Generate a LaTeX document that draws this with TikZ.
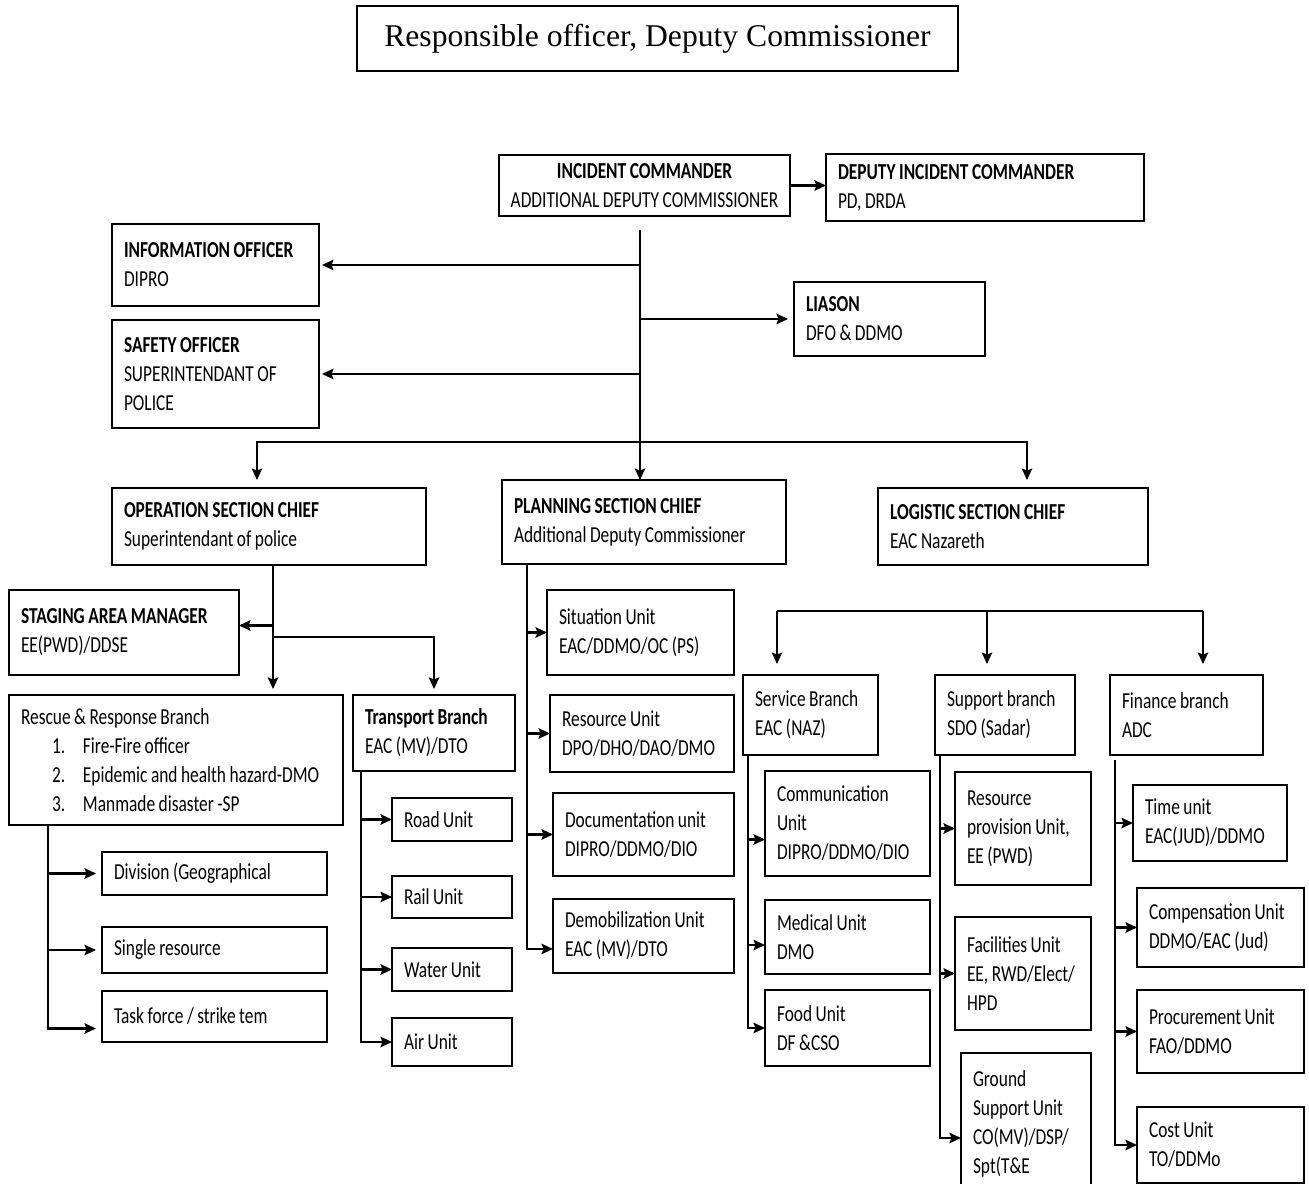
\documentclass[tikz,border=0pt]{standalone}
\usepackage{fontspec}
\newfontfamily\cfont{Carlito}[FakeStretch=0.76,WordSpace=0.9]
\newfontfamily\tfont{Liberation Serif}
\usetikzlibrary{arrows.meta}
\usetikzlibrary{calc}

\begin{document}
\begin{tikzpicture}[x=0.2mm,y=-0.2mm,>={Stealth[length=2.3mm,width=2.1mm,inset=0.4mm]},
  box/.style={draw, line width=1.3pt, anchor=north west, outer sep=0pt, inner xsep=2.4mm, inner ysep=1mm, align=flush left, font=\cfont\fontsize{13}{16.5}\selectfont},
  sz/.style 2 args={minimum width=#1*0.2mm, minimum height=#2*0.2mm, text width=#1*0.2mm-4.8mm},
  con/.style={line width=1.2pt}]

\useasboundingbox (0,0) rectangle (1309,1184);

\node[box, line width=1pt, font=\tfont\fontsize{18}{21}\selectfont, align=center, minimum width=120.2mm, minimum height=13mm] (title) at (357,6) {Responsible officer, Deputy Commissioner};

% command staff
\node[box, line width=1pt, align=center, inner xsep=0.5mm, minimum width=58.2mm, minimum height=12.2mm] (ic) at (499,155) {\textbf{INCIDENT COMMANDER}\\ADDITIONAL DEPUTY COMMISSIONER};
\node[box, line width=1pt, sz={318}{67}] (dic) at (826,154) {\textbf{DEPUTY INCIDENT COMMANDER}\\PD, DRDA};
\node[box, sz={207}{82}] (info) at (112,224) {\textbf{INFORMATION OFFICER}\\DIPRO};
\node[box, sz={207}{108}] (safe) at (112,320) {\textbf{SAFETY OFFICER}\\SUPERINTENDANT OF\\POLICE};
\node[box, sz={191}{74}] (lias) at (794,282) {\textbf{LIASON}\\DFO \& DDMO};

% sections
\node[box, sz={314}{77}] (ops) at (112,488) {\textbf{OPERATION SECTION CHIEF}\\Superintendant of police};
\node[box, sz={284}{84}] (plan) at (502,480) {\textbf{PLANNING SECTION CHIEF}\\Additional Deputy Commissioner};
\node[box, sz={270}{77}] (logi) at (878,488) {\textbf{LOGISTIC SECTION CHIEF}\\EAC Nazareth};

% operation
\node[box, sz={230}{85}] (stag) at (9,590) {\textbf{STAGING AREA MANAGER}\\EE(PWD)/DDSE};
\node[box, sz={334}{130}] (resc) at (9,695) {Rescue \& Response Branch\\
  \hspace*{6.2mm}\makebox[6.2mm][l]{1.}Fire-Fire officer\\
  \hspace*{6.2mm}\makebox[6.2mm][l]{2.}Epidemic and health hazard-DMO\\
  \hspace*{6.2mm}\makebox[6.2mm][l]{3.}Manmade disaster -SP};
\node[box, sz={162}{76}] (trans) at (353,695) {\textbf{Transport Branch}\\EAC (MV)/DTO};
\node[box, sz={225}{43}] (div) at (102,852) {Division (Geographical};
\node[box, sz={225}{46}] (single) at (102,927) {Single resource};
\node[box, sz={225}{51}] (task) at (102,991) {Task force / strike tem};
\node[box, sz={120}{43}] (road) at (392,798) {Road Unit};
\node[box, sz={120}{42}] (rail) at (392,876) {Rail Unit};
\node[box, sz={120}{43}] (water) at (392,948) {Water Unit};
\node[box, sz={120}{48}] (air) at (392,1018) {Air Unit};

% planning
\node[box, sz={187}{85}] (sit) at (547,590) {Situation Unit\\EAC/DDMO/OC (PS)};
\node[box, sz={184}{77}] (res) at (550,695) {Resource Unit\\DPO/DHO/DAO/DMO};
\node[box, sz={181}{83}] (doc) at (553,793) {Documentation unit\\DIPRO/DDMO/DIO};
\node[box, sz={181}{74}] (demob) at (553,899) {Demobilization Unit\\EAC (MV)/DTO};

% logistic
\node[box, sz={135}{80}] (serv) at (743,675) {Service Branch\\EAC (NAZ)};
\node[box, sz={140}{80}] (supp) at (935,675) {Support branch\\SDO (Sadar)};
\node[box, sz={153}{80}] (fin) at (1110,675) {Finance branch\\ADC};
\node[box, sz={165}{105}] (comm) at (765,771) {Communication\\Unit\\DIPRO/DDMO/DIO};
\node[box, sz={165}{74}] (med) at (765,900) {Medical~Unit\\DMO};
\node[box, sz={165}{76}] (food) at (765,990) {Food Unit\\DF \&CSO};
\node[box, sz={136}{113}] (rprov) at (955,772) {Resource\\provision~Unit,\\EE (PWD)};
\node[box, sz={136}{113}] (facil) at (955,917) {Facilities~Unit\\EE,~RWD/Elect/\\HPD};
\node[box, sz={130}{142}] (gsup) at (961,1053) {Ground\\Support~Unit\\CO(MV)/DSP/\\Spt(T\&E};
\node[box, sz={154}{76}] (time) at (1133,785) {Time unit\\EAC(JUD)/DDMO};
\node[box, sz={167}{79}] (comp) at (1137,888) {Compensation~Unit\\DDMO/EAC (Jud)};
\node[box, sz={167}{83}] (proc) at (1137,990) {Procurement~Unit\\FAO/DDMO};
\node[box, sz={167}{76}] (cost) at (1137,1107) {Cost Unit\\TO/DDMo};

% command lines
\coordinate (tr) at (640,230);
\coordinate (trb) at (640,442);
\draw[con,->] (ic.east) -- (ic.east -| dic.west);
\draw[con,->] (tr) -- (tr |- plan.north);
\draw[con,->,shorten >=0.6mm] (tr |- info.east) -- (info.east);
\draw[con,->,shorten >=0.6mm] (tr |- safe.east) -- (safe.east);
\draw[con,->,shorten >=1.2mm] (tr |- lias.west) -- (lias.west);
\draw[con,->,shorten >=1.6mm] (trb) -| ([xshift=-2.4mm]ops.north);
\draw[con,->,shorten >=1.6mm] (trb) -| ([xshift=2.8mm]logi.north);

% operation lines
\coordinate (oj) at ([xshift=0.8mm]ops.south);
\draw[con,->,shorten >=1.2mm] (oj) -- (oj |- resc.north);
\draw[con,<-] ([yshift=1.4mm]stag.east) -| (oj);
\draw[con,->,shorten >=1.2mm] ([yshift=-14.4mm]oj) -| (trans.north);

\coordinate (rj) at ([xshift=7.8mm]resc.south west);
\draw[con,<-,shorten <=1.2mm] ([yshift=-2.4mm]task.west) -| (rj);
\draw[con,->,shorten >=1.2mm] (rj |- div.west) -- (div.west);
\draw[con,->,shorten >=1.2mm] (rj |- single.west) -- (single.west);

\coordinate (tj) at ([xshift=1.6mm]trans.south west);
\draw[con,->] (tj) |- (air.west);
\foreach \n in {road,rail,water}
  \draw[con,->] (tj |- \n.west) -- (\n.west);

% planning lines
\coordinate (pj) at ([xshift=5mm]plan.south west);
\draw[con,<-] ([yshift=-2.6mm]demob.west) -| (pj);
\foreach \n in {sit,res,doc}
  \draw[con,->] (pj |- \n.west) -- (\n.west);

% logistic lines
\coordinate (lb1) at (777,611);
\coordinate (lb2) at (987,611);
\coordinate (lb3) at (1203,611);
\draw[con] (lb1) -- (lb3);
\foreach \c/\n in {lb1/serv,lb2/supp,lb3/fin}
  \draw[con,->,shorten >=2.2mm] (\c) -- (\c |- \n.north);

\coordinate (sj) at ([xshift=1mm]serv.south west);
\draw[con,->] (sj) |- (food.west);
\draw[con,<-] ([yshift=-3.2mm]comm.west) -| (sj);
\draw[con,<-] ([yshift=-1.6mm]med.west) -| (sj);

\coordinate (uj) at ([xshift=1mm]supp.south west);
\draw[con,<-] ([yshift=-2.8mm]gsup.west) -| (uj);
\draw[con,->] (uj |- rprov.west) -- (rprov.west);
\draw[con,->] (uj |- facil.west) -- (facil.west);

\coordinate (fj) at ([shift={(1mm,-1mm)}]fin.south west);
\draw[con,->] (fj) |- (cost.west);
\foreach \n in {time,comp,proc}
  \draw[con,->] (fj |- \n.west) -- (\n.west);
\end{tikzpicture}
\end{document}
